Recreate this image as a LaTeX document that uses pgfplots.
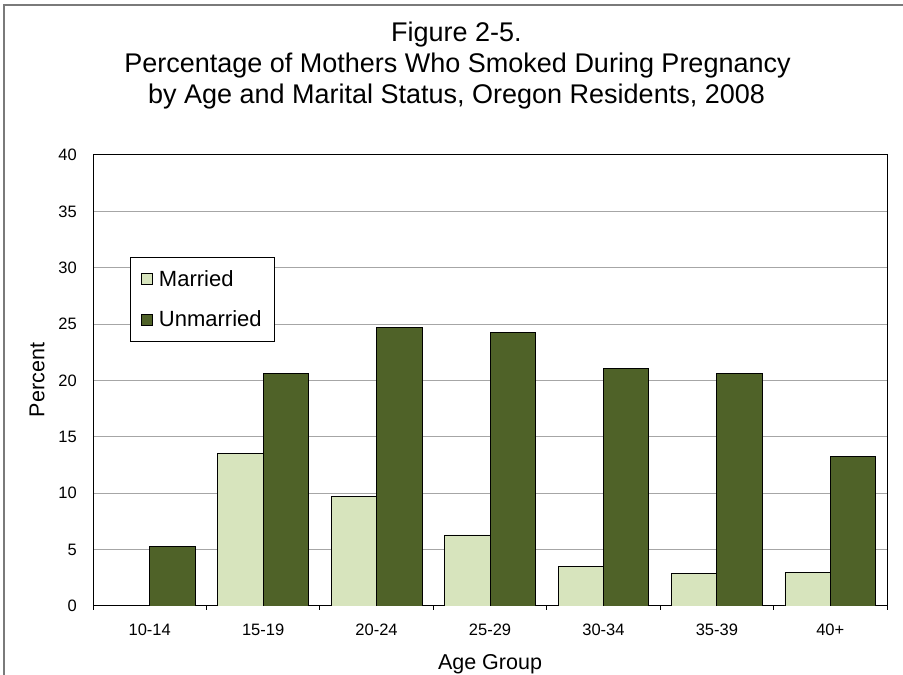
\documentclass[border=0pt]{standalone}
\usepackage{fontspec}
\setmainfont{Liberation Sans}
\usepackage{pgfplots}
\pgfplotsset{compat=1.18}
\definecolor{married}{HTML}{D7E4BD}
\definecolor{unmarried}{HTML}{4F6228}
\definecolor{gridc}{HTML}{A6A6A6}
\definecolor{framec}{HTML}{7A7A7A}
\begin{document}
\begin{tikzpicture}[x=1bp,y=1bp]
\useasboundingbox (0,0) rectangle (903,675);
\draw[framec, line width=1.3bp] (4,-5) -- (4,670) -- (910,670);
\node[anchor=base, inner sep=0pt, font=\fontsize{27bp}{30bp}\selectfont] at (456.5,633.5) {Figure 2-5.};
\node[anchor=base, inner sep=0pt, font=\fontsize{27bp}{30bp}\selectfont] at (457.5,602.3) {Percentage of Mothers Who Smoked During Pregnancy};
\node[anchor=base, inner sep=0pt, font=\fontsize{27bp}{30bp}\selectfont] at (456.5,571) {by Age and Marital Status, Oregon Residents, 2008};
\begin{axis}[
  at={(93bp,69bp)}, anchor=south west,
  width=794bp, height=451bp, scale only axis,
  ybar, bar width=0.4,
  xmin=0.5, xmax=7.5, ymin=0, ymax=40,
  ytick={0,5,...,40},
  xtick={1,...,7},
  xticklabels={10-14,15-19,20-24,25-29,30-34,35-39,40+},
  major tick length=0pt,
  tick pos=left,
  extra x ticks={0.5,1.5,2.5,3.5,4.5,5.5,6.5,7.5},
  extra x tick labels={},
  extra x tick style={major tick length=4bp, tick align=outside, grid=none, tick style={black, line width=0.8bp}},
  ymajorgrids, grid style={gridc, line width=1bp},
  axis line style={black, line width=1bp},
  /pgf/number format/assume math mode=true,
  yticklabel style={font=\fontsize{16.5bp}{19bp}\selectfont, anchor=east, inner sep=0pt, xshift=-16bp},
  xticklabel style={font=\fontsize{16.5bp}{19bp}\selectfont, anchor=north, inner sep=0pt, yshift=-18bp},
  ylabel={Percent},
  ylabel style={font=\fontsize{21.5bp}{24bp}\selectfont, at={(axis description cs:-0.0705,0.501)}, anchor=center, rotate=0},
  xlabel={Age Group},
  xlabel style={font=\fontsize{21.5bp}{24bp}\selectfont, at={(axis description cs:0.5,-0.1419)}, anchor=base, inner sep=0pt},
  legend style={at={(axis description cs:0.0466,0.774)}, anchor=north west, draw=black, line width=0.8bp,
    font=\fontsize{22bp}{24bp}\selectfont, inner xsep=11bp, inner ysep=11bp, row sep=19bp,
    /tikz/every odd column/.append style={column sep=4bp}},
  legend cell align=left,
  legend image code/.code={\draw[#1, line width=0.6bp] (0bp,-5.5bp) rectangle (11bp,5.5bp);},
]
\addplot[bar shift=-0.2, fill=married, draw=black, line width=0.8bp] coordinates {(2,13.5) (3,9.7) (4,6.3) (5,3.5) (6,2.9) (7,3.0)};
\addplot[bar shift=0.2, fill=unmarried, draw=black, line width=0.8bp] coordinates {(1,5.3) (2,20.6) (3,24.7) (4,24.3) (5,21.1) (6,20.6) (7,13.3)};
\legend{Married,Unmarried}
\end{axis}
\end{tikzpicture}
\end{document}
